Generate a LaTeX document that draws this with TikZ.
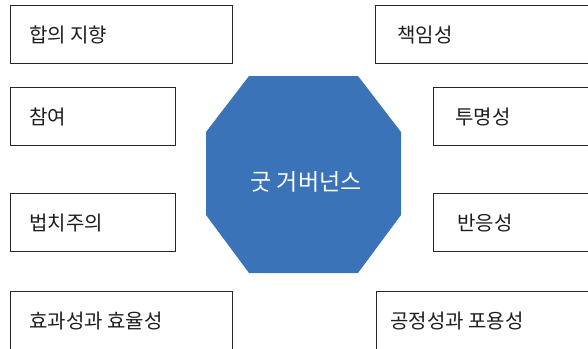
\documentclass[tikz,border=0pt]{standalone}
\usepackage{fontspec}
\setmainfont{Noto Sans CJK KR}
\definecolor{octblue}{RGB}{59,115,185}
\definecolor{edge}{RGB}{38,38,38}
\definecolor{txt}{RGB}{30,30,30}
\tikzset{
  box/.style={draw=edge, line width=1.4pt, fill=white, anchor=north west, minimum height=58pt, inner sep=0pt},
  lbl/.style={anchor=west, inner sep=0pt, text=txt, font=\fontsize{20}{24}\selectfont},
  ctr/.style={inner sep=0pt, text=white, font=\fontsize{23}{28}\selectfont}
}
\begin{document}
\begin{tikzpicture}[x=1pt,y=-1pt]
\useasboundingbox (0,0) rectangle (588,348);
\clip (0,0) rectangle (588,348);
% left column
\node[box, minimum width=222pt] (b1) at (10,5) {};
\node[box, minimum width=165pt] (b2) at (10,87) {};
\node[box, minimum width=165pt] (b3) at (10,193) {};
\node[box, minimum width=222pt] (b4) at (10,291) {};
% right column
\node[box, minimum width=250pt] (c1) at (375,5) {};
\node[box, minimum width=200pt] (c2) at (433,87) {};
\node[box, minimum width=200pt] (c3) at (433,193) {};
\node[box, minimum width=250pt] (c4) at (376,291) {};
% labels
\node[lbl] (t1) at ([xshift=19pt]b1.west) {합의 지향};
\node[lbl] (t2) at ([xshift=19pt]b2.west) {참여};
\node[lbl] (t3) at ([xshift=19pt]b3.west) {법치주의};
\node[lbl] (t4) at ([xshift=19pt]b4.west) {효과성과 효율성};
\node[lbl] (u1) at ([xshift=22pt]c1.west) {책임성};
\node[lbl] (u2) at ([xshift=22pt]c2.west) {투명성};
\node[lbl] (u3) at ([xshift=24pt]c3.west) {반응성};
\node[lbl] (u4) at ([xshift=14pt]c4.west) {공정성과 포용성};
% central octagon
\fill[octblue] (249,76) -- (358,76) -- (401,132) -- (401,215) -- (358,273) -- (249,273) -- (206,215) -- (206,132) -- cycle;
\node[ctr] (gg) at (306,182) {굿 거버넌스};
\end{tikzpicture}
\end{document}
